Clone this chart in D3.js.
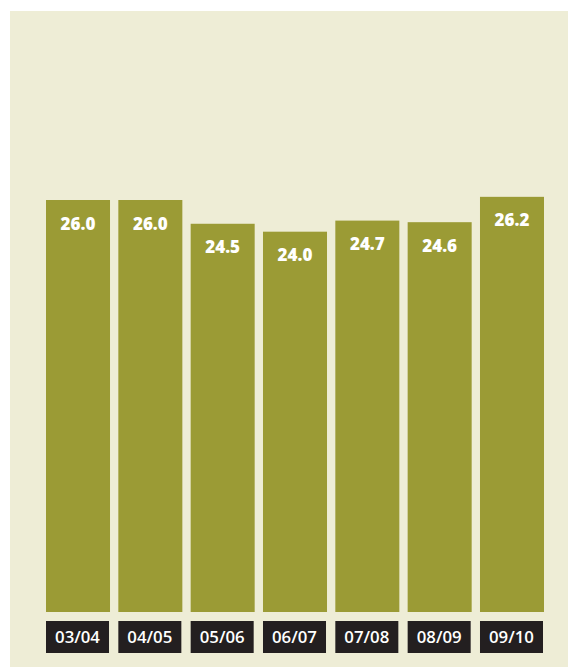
<!DOCTYPE html>
<html>
<head>
<meta charset="utf-8">
<script src="https://cdn.jsdelivr.net/npm/d3@7"></script>
<style>
  html, body { margin: 0; padding: 0; background: #ffffff; }
  svg { display: block; }
</style>
</head>
<body>
<svg id="chart" width="568" height="667"></svg>
<script>
// Seasons shown along the bottom
const seasons = ["03/04", "04/05", "05/06", "06/07", "07/08", "08/09", "09/10"];
// Value for each season
const values = [26.0, 26.0, 24.5, 24.0, 24.7, 24.6, 26.2];

const svg = d3.select("#chart");
const W = 568, H = 667;

// Beige panel
svg.append("rect")
  .attr("x", 10).attr("y", 11)
  .attr("width", W - 10).attr("height", H - 11)
  .attr("fill", "#eeedd6");

const x = d3.scaleBand()
  .domain(seasons)
  .range([46, 544])
  .paddingInner(0.115)
  .paddingOuter(0);

const baseY = 612;
const y = d3.scaleLinear()
  .domain([0, 26])
  .range([baseY, 200]);

const data = seasons.map((s, i) => ({ s, v: values[i] }));

// Bars
svg.append("g").selectAll("rect")
  .data(data)
  .join("rect")
  .attr("x", d => x(d.s))
  .attr("y", d => y(d.v))
  .attr("width", x.bandwidth())
  .attr("height", d => baseY - y(d.v))
  .attr("fill", "#9b9b35");

// Value labels inside the bar tops
svg.append("g").selectAll("text")
  .data(data)
  .join("text")
  .attr("x", d => x(d.s) + x.bandwidth() / 2)
  .attr("y", d => y(d.v) + 29.5)
  .attr("text-anchor", "middle")
  .attr("font-family", "'Open Sans', sans-serif")
  .attr("font-weight", 800)
  .attr("font-size", 17)
  .attr("fill", "#ffffff")
  .text(d => d.v.toFixed(1));

// Season tags below the bars
const tags = svg.append("g").selectAll("g")
  .data(data)
  .join("g")
  .attr("transform", d => `translate(${x(d.s)},621)`);

tags.append("rect")
  .attr("width", x.bandwidth() - 1)
  .attr("height", 32)
  .attr("fill", "#231f20");

tags.append("text")
  .attr("x", (x.bandwidth() - 1) / 2)
  .attr("y", 21.8)
  .attr("text-anchor", "middle")
  .attr("font-family", "'Open Sans', sans-serif")
  .attr("font-weight", 600)
  .attr("font-size", 16.8)
  .attr("fill", "#ffffff")
  .text(d => d.s);
</script>
</body>
</html>
